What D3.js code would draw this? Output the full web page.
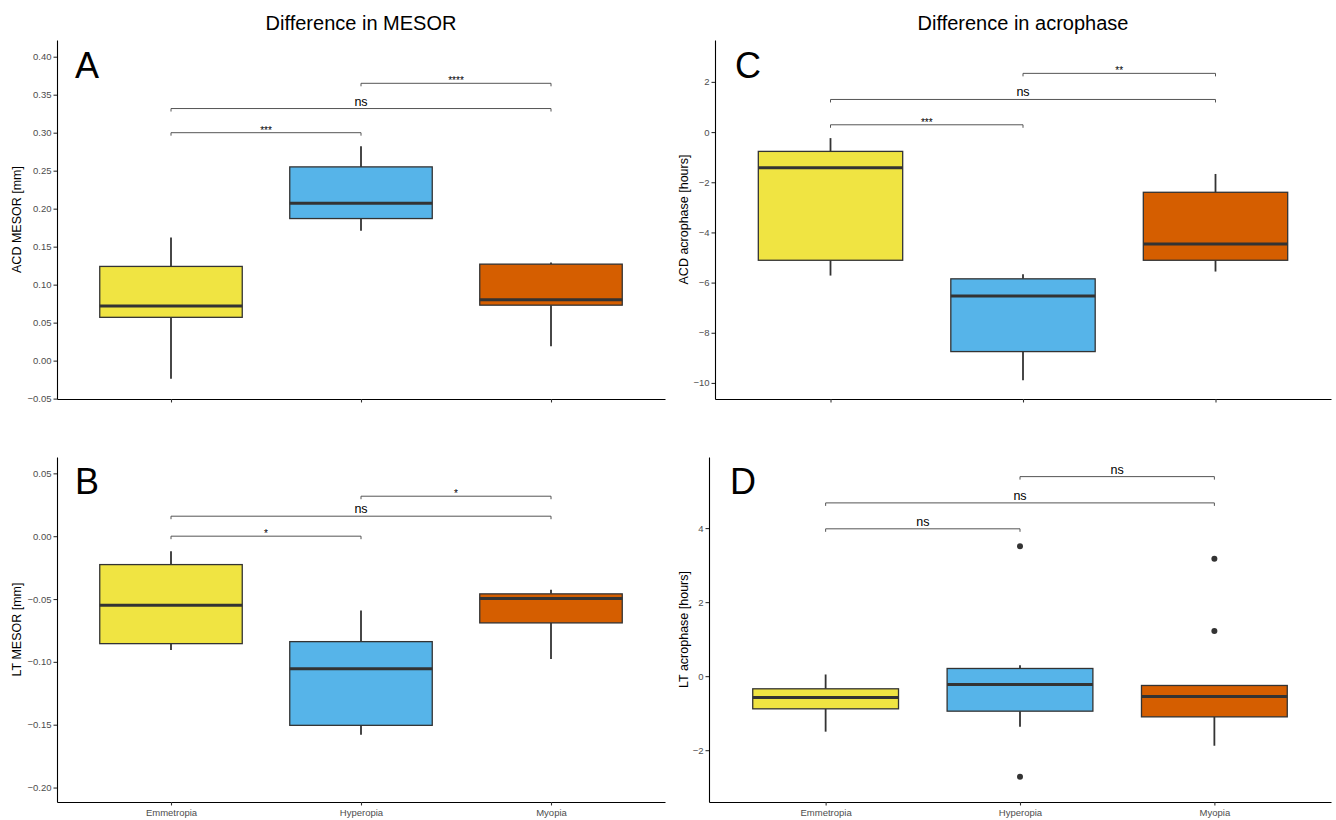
<!DOCTYPE html>
<html>
<head>
<meta charset="utf-8">
<script src="https://cdn.jsdelivr.net/npm/d3@7"></script>
<style>
  body { margin: 0; background: #fff; }
  text { font-family: "Liberation Sans", Arial, sans-serif; }
</style>
</head>
<body>
<div id="chart"></div>
<script>
// groups and fill colours
const groups = ["Emmetropia", "Hyperopia", "Myopia"];
const groupColors = ["#F0E442", "#56B4E9", "#D55E00"];

// box stats per group: [lower whisker, q1, median, q3, upper whisker]
const acdMesorStats = [
    [-0.024, 0.057, 0.072, 0.124, 0.162],
    [0.171, 0.187, 0.207, 0.255, 0.282],
    [0.019, 0.073, 0.080, 0.127, 0.129]
];
const ltMesorStats = [
    [-0.0905, -0.0855, -0.055, -0.0226, -0.0119],
    [-0.158, -0.1505, -0.1054, -0.0839, -0.0592],
    [-0.0977, -0.069, -0.0496, -0.0459, -0.0427]
];
const acdAcroStats = [
    [-5.72, -5.11, -1.42, -0.77, -0.24],
    [-9.89, -8.75, -6.53, -5.85, -5.67],
    [-5.56, -5.11, -4.46, -2.40, -1.67]
];
const ltAcroStats = [
    [-1.50, -0.883, -0.577, -0.342, 0.045],
    [-1.37, -0.946, -0.225, 0.207, 0.297],
    [-1.88, -1.10, -0.55, -0.252, -0.252]
];

// outlier points per group
const noOutliers = [[], [], []];
const ltAcroOutliers = [[], [3.51, -2.72], [3.17, 1.22]];

// significance brackets: [group a, group b, y, label]
const acdMesorSig = [[0, 1, 0.300, "***"], [0, 2, 0.3318, "ns"], [1, 2, 0.365, "****"]];
const ltMesorSig = [[0, 1, 0.0, "*"], [0, 2, 0.0159, "ns"], [1, 2, 0.0318, "*"]];
const acdAcroSig = [[0, 1, 0.29, "***"], [0, 2, 1.30, "ns"], [1, 2, 2.34, "**"]];
const ltAcroSig = [[0, 1, 3.98, "ns"], [0, 2, 4.68, "ns"], [1, 2, 5.39, "ns"]];

// y tick values
const mesorAcdTicks = [-0.05, 0, 0.05, 0.10, 0.15, 0.20, 0.25, 0.30, 0.35, 0.40];
const mesorLtTicks = [-0.20, -0.15, -0.10, -0.05, 0, 0.05];
const acroAcdTicks = [-10, -8, -6, -4, -2, 0, 2];
const acroLtTicks = [-2, 0, 2, 4];

const W = 1336, H = 820;

const svg = d3.select("#chart").append("svg")
    .attr("width", W)
    .attr("height", H);

// column titles
svg.append("text")
    .attr("x", 361).attr("y", 30)
    .attr("text-anchor", "middle")
    .style("font-size", "20px")
    .text("Difference in MESOR");
svg.append("text")
    .attr("x", 1023).attr("y", 30)
    .attr("text-anchor", "middle")
    .style("font-size", "20px")
    .text("Difference in acrophase");

const panels = [
    { letter: "A", stats: acdMesorStats, outliers: noOutliers, sig: acdMesorSig,
      left: 57, right: 665, top: 40, bottom: 399, domain: [-0.0505, 0.422],
      ticks: mesorAcdTicks, fmt: d3.format(".2f"), title: "ACD MESOR [mm]",
      titleX: 21, letterX: 75, xLabels: false },
    { letter: "B", stats: ltMesorStats, outliers: noOutliers, sig: ltMesorSig,
      left: 57, right: 665, top: 457, bottom: 802, domain: [-0.2115, 0.063],
      ticks: mesorLtTicks, fmt: d3.format(".2f"), title: "LT MESOR [mm]",
      titleX: 21, letterX: 75, xLabels: true },
    { letter: "C", stats: acdAcroStats, outliers: noOutliers, sig: acdAcroSig,
      left: 715, right: 1331, top: 40, bottom: 399, domain: [-10.64, 3.67],
      ticks: acroAcdTicks, fmt: d3.format("d"), title: "ACD acrophase [hours]",
      titleX: 688, letterX: 735, xLabels: false },
    { letter: "D", stats: ltAcroStats, outliers: ltAcroOutliers, sig: ltAcroSig,
      left: 709, right: 1331, top: 457, bottom: 802, domain: [-3.40, 5.92],
      ticks: acroLtTicks, fmt: d3.format("d"), title: "LT acrophase [hours]",
      titleX: 688, letterX: 730, xLabels: true }
];

panels.forEach(p => drawPanel(p));

function drawPanel(p) {
    let g = svg.append("g");

    let x = d3.scalePoint()
        .domain(groups)
        .range([p.left, p.right])
        .padding(0.6);
    let y = d3.scaleLinear()
        .domain(p.domain)
        .range([p.bottom, p.top]);
    let bw = x.step() * 0.75;

    // axes
    let yAxis = g.append("g")
        .attr("transform", `translate(${p.left},0)`)
        .call(d3.axisLeft(y).tickValues(p.ticks).tickFormat(p.fmt).tickSize(3.5).tickSizeOuter(0).tickPadding(2));
    let xAxis = g.append("g")
        .attr("transform", `translate(0,${p.bottom})`)
        .call(d3.axisBottom(x).tickSize(3.5).tickSizeOuter(0).tickPadding(4));

    [yAxis, xAxis].forEach(ax => {
        ax.select(".domain").attr("stroke", "#000").attr("stroke-width", 1.1);
        ax.selectAll(".tick line").attr("stroke", "#333").attr("stroke-width", 1.1);
        ax.selectAll(".tick text")
            .attr("fill", "#4d4d4d")
            .style("font-size", "9.5px")
            .style("font-family", "'Liberation Sans', Arial, sans-serif");
    });
    if (!p.xLabels) xAxis.selectAll(".tick text").remove();

    // y title
    g.append("text")
        .attr("transform", `translate(${p.titleX},${(p.top + p.bottom) / 2}) rotate(-90)`)
        .attr("text-anchor", "middle")
        .style("font-size", "12.5px")
        .text(p.title);

    // panel letter
    g.append("text")
        .attr("x", p.letterX)
        .attr("y", p.top + (p.top < 100 ? 38 : 37))
        .style("font-size", "36px")
        .text(p.letter);

    // boxes
    p.stats.forEach((s, i) => {
        let cx = x(groups[i]);
        let [lo, q1, med, q3, hi] = s;
        g.append("line")
            .attr("x1", cx).attr("x2", cx)
            .attr("y1", y(q3)).attr("y2", y(hi))
            .attr("stroke", "#333").attr("stroke-width", 1.8);
        g.append("line")
            .attr("x1", cx).attr("x2", cx)
            .attr("y1", y(q1)).attr("y2", y(lo))
            .attr("stroke", "#333").attr("stroke-width", 1.8);
        g.append("rect")
            .attr("x", cx - bw / 2)
            .attr("y", y(q3))
            .attr("width", bw)
            .attr("height", y(q1) - y(q3))
            .attr("fill", groupColors[i])
            .attr("stroke", "#333")
            .attr("stroke-width", 1.3);
        g.append("line")
            .attr("x1", cx - bw / 2).attr("x2", cx + bw / 2)
            .attr("y1", y(med)).attr("y2", y(med))
            .attr("stroke", "#333").attr("stroke-width", 3);

        p.outliers[i].forEach(v => {
            g.append("circle")
                .attr("cx", cx).attr("cy", y(v))
                .attr("r", 3)
                .attr("fill", "#333");
        });
    });

    // significance brackets
    p.sig.forEach(([a, b, v, label]) => {
        let x1 = x(groups[a]), x2 = x(groups[b]), yy = y(v);
        g.append("path")
            .attr("d", `M${x1},${yy + 3}V${yy}H${x2}V${yy + 3}`)
            .attr("fill", "none")
            .attr("stroke", "#555")
            .attr("stroke-width", 1);
        let isStar = label.includes("*");
        g.append("text")
            .attr("x", (x1 + x2) / 2)
            .attr("y", isStar ? yy + 1 : yy - 3)
            .attr("text-anchor", "middle")
            .style("font-size", isStar ? "10px" : "12.5px")
            .text(label);
    });
}
</script>
</body>
</html>
